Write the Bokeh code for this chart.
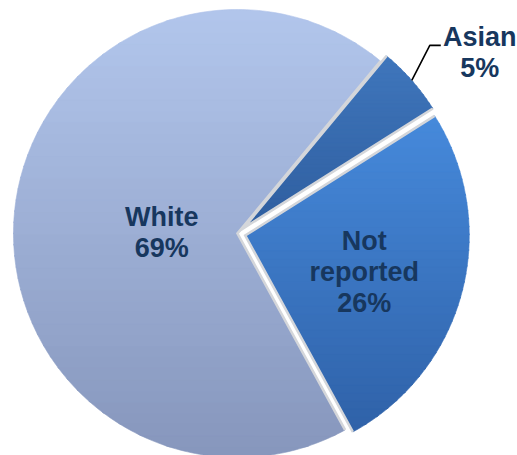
import numpy as np
from bokeh.plotting import figure
from bokeh.models import Range1d
from bokeh.core.properties import value
from bokeh.embed import file_html
from bokeh.resources import INLINE

# ---- data ----
categories = ["White", "Asian", "Not reported"]
percents = [69, 5, 26]
labels = ["White\n69%", "Asian\n5%", "Not\nreported\n26%"]

# ---- style ----
W, H = 517, 455
cx, cy, R = 237.0, 222.0, 224.0
start_deg = -61.3            # lower edge of "Not reported"
explode = {"White": 0.0, "Asian": 8.0, "Not reported": 8.0}
grad = {
    "White": ("#B2C6EC", "#8696BC"),
    "Asian": ("#3F76BC", "#2F5E9F"),
    "Not reported": ("#468ADB", "#2F61A8"),
}
label_dist = {"White": 76.0, "Not reported": 123.0}
label_dy = -6.0
text_color = "#17375E"
font = value("Liberation Sans")

p = figure(width=W, height=H, output_backend="svg", toolbar_location=None,
           x_range=Range1d(0, W), y_range=Range1d(0, H), min_border=0)
p.axis.visible = False
p.grid.visible = False
p.outline_line_color = None
p.background_fill_color = "white"


def hex2rgb(h):
    h = h.lstrip("#")
    return np.array([int(h[i:i + 2], 16) for i in (0, 2, 4)], dtype=float)


def rgb2hex(c):
    return "#%02x%02x%02x" % tuple(int(round(v)) for v in c)


def clip(poly, inside, inter):
    out = []
    n = len(poly)
    for i in range(n):
        cur, prev = poly[i], poly[i - 1]
        if inside(cur):
            if not inside(prev):
                out.append(inter(prev, cur))
            out.append(cur)
        elif inside(prev):
            out.append(inter(prev, cur))
    return out


def hinter(c):
    def f(a, b):
        t = (c - a[1]) / (b[1] - a[1])
        return (a[0] + t * (b[0] - a[0]), c)
    return f


total = float(sum(percents))
order = list(reversed(range(len(categories))))
ang = np.radians(start_deg)
geo = {}
for i in order:
    span = 2 * np.pi * percents[i] / total
    a0, a1 = ang, ang + span
    mid = (a0 + a1) / 2
    name = categories[i]
    ox = cx + explode[name] * np.cos(mid)
    oy = cy + explode[name] * np.sin(mid)
    geo[name] = (a0, a1, mid, ox, oy)
    ang = a1

band_xs, band_ys, band_c = [], [], []
edge_xs, edge_ys = [], []
for name in categories:
    a0, a1, mid, ox, oy = geo[name]
    t = np.linspace(a0, a1, 240)
    poly = [(ox, oy)] + [(ox + R * np.cos(a), oy + R * np.sin(a)) for a in t]
    ys = [q[1] for q in poly]
    ymin, ymax = min(ys), max(ys)
    top, bot = hex2rgb(grad[name][0]), hex2rgb(grad[name][1])
    nb = 40
    edges = np.linspace(ymin, ymax, nb + 1)
    for k in range(nb):
        y0, y1 = edges[k] - 0.6, edges[k + 1] + 0.6
        part = clip(poly, lambda q: q[1] >= y0, hinter(y0))
        part = clip(part, lambda q: q[1] <= y1, hinter(y1))
        if len(part) < 3:
            continue
        f = (edges[k] + edges[k + 1]) / 2
        f = (ymax - f) / (ymax - ymin)
        col = rgb2hex(top + (bot - top) * f)
        band_xs.append([q[0] for q in part])
        band_ys.append([q[1] for q in part])
        band_c.append(col)
    edge_xs.append([ox + R * np.cos(a0), ox, ox + R * np.cos(a1)])
    edge_ys.append([oy + R * np.sin(a0), oy, oy + R * np.sin(a1)])

p.patches(band_xs, band_ys, fill_color=band_c, line_color=band_c, line_width=0.6)
p.multi_line(edge_xs, edge_ys, line_color="#D4D6DA", line_width=2.6, line_join="miter")

# ---- labels ----
lh = 31.0
fs = "27px"
for name, lab in zip(categories, labels):
    a0, a1, mid, ox, oy = geo[name]
    lines = lab.split("\n")
    if name in label_dist:
        lx = ox + label_dist[name] * np.cos(mid)
        ly = oy + label_dist[name] * np.sin(mid) + label_dy
    else:
        sx = ox + R * np.cos(mid)
        sy = oy + R * np.sin(mid)
        ex, ey = sx + 18, sy + 35
        p.line([sx, ex, ex + 11], [sy, ey, ey], line_color="black", line_width=1.6)
        lx, ly = ex + 50, ey - 7.5
    n = len(lines)
    yy = [ly + (n - 1) / 2 * lh - j * lh for j in range(n)]
    p.text(x=[lx] * n, y=yy, text=lines, text_align="center", text_baseline="middle",
           text_font=font, text_font_style="bold", text_font_size=fs,
           text_color=text_color)

open("out.html", "w").write(file_html(p, INLINE))
